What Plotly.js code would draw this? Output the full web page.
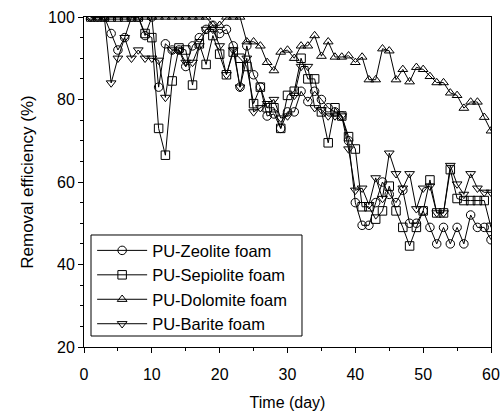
<!DOCTYPE html>
<html>
<head>
<meta charset="utf-8">
<script src="https://cdn.plot.ly/plotly-3.0.1.min.js"></script>
<style>html,body{margin:0;padding:0;background:#fff;}#chart{width:504px;height:418px;}</style>
</head>
<body>
<div id="chart"></div>
<script>
const days = Array.from({length: 60}, (_, i) => i + 1);

const zeolite = [100,100,100,96,92,95,100,100,95.5,100,
  83,93.5,92,92,88,93,95,97,98,96,
  97,93,83,93,86,83,76,76.5,73,77,
  77,82,79.5,82,80,78,77,76,70,55,
  49.5,49.5,55,60,57,55,58,50,50,53,
  49,45,49,45,49,45,52,49,49,46];

const sepiolite = [100,100,100,100,100,100,100,100,96,95,
  73,66.5,84.5,92.5,92,83.5,93.5,88.5,95.5,91,
  86,91.5,90,88,79,83,78,78,73,81,
  82,90,85,85,77,69.5,78,76,71,68,
  54,54,51,53,59,53,49,44.5,49,53,
  60.5,52.5,52.5,63,56,55.5,55.5,55.5,55.5,49];

const dolomite = [100,100,100,100,100,100,100,100,100,100,
  100,100,100,100,100,100,100,100,98,98,
  100,100,100,94,94,93,89,87,91.5,92,
  90,93,93,95.5,90.5,94,90.3,90.3,90.6,89,
  90.3,84.8,84.8,92.3,91.8,84.8,87.3,84.3,87.8,87.3,
  85.6,84.1,84.1,81.6,81,77.9,79.4,79.4,75.7,72.4];

const barite = [100,100,100,84,90,95,90,92,90,90,
  89.5,80.5,92,92,89,89,93,97,97,93,
  86,92,83,90,77,78,79,80,75.5,76,
  81,88,88,78,77.5,76,76,76,68,58,
  58.5,54.5,61,56,67,62,58.5,62,53.5,58.5,
  59,52.5,52.5,64,59.5,57,62,58.5,57.5,57.5];

const names = ['PU-Zeolite foam','PU-Sepiolite foam','PU-Dolomite foam','PU-Barite foam'];
const series = [zeolite, sepiolite, dolomite, barite];
const symbols = ['circle-open','square-open','triangle-up-open','triangle-down-open'];

const traces = series.map((ys, k) => ({
  x: days, y: ys, name: names[k], type: 'scatter', mode: 'lines+markers',
  line: {color: '#000', width: 1},
  marker: {symbol: symbols[k], size: 8.5, color: '#000', line: {width: 1, color: '#000'}}
}));

const font = {family: 'Arial, "Liberation Sans", sans-serif', color: '#000'};

const layout = {
  width: 504, height: 418,
  margin: {l: 84, r: 13, t: 17, b: 71},
  paper_bgcolor: '#fff', plot_bgcolor: '#fff',
  font: Object.assign({size: 15}, font),
  showlegend: true,
  legend: {
    x: 0.02, y: 0.345, xanchor: 'left', yanchor: 'top',
    borderwidth: 0, bgcolor: 'rgba(0,0,0,0)',
    font: Object.assign({size: 16.5}, font),
    itemwidth: 50,
    tracegroupgap: 0
  },
  shapes: [{
    type: 'rect', xref: 'paper', yref: 'paper',
    x0: 0.0172, x1: 0.5356, y0: 0.0333, y1: 0.3394,
    line: {color: '#000', width: 1}, fillcolor: 'rgba(0,0,0,0)', layer: 'above'
  }],
  xaxis: {
    range: [0, 60], tickvals: [0,10,20,30,40,50,60],
    ticks: 'outside', ticklen: 5, tickwidth: 1, tickcolor: '#000',
    ticklabelstandoff: 8,
    showline: true, linecolor: '#000', linewidth: 1, mirror: true,
    showgrid: false, zeroline: false,
    tickfont: Object.assign({size: 16}, font),
    minor: {dtick: 5, ticks: 'outside', ticklen: 3, tickcolor: '#000'},
    title: {text: 'Time (day)', font: Object.assign({size: 16}, font), standoff: 14}
  },
  yaxis: {
    range: [20, 100], tickvals: [20,40,60,80,100],
    ticks: 'outside', ticklen: 5, tickwidth: 1, tickcolor: '#000',
    showline: true, linecolor: '#000', linewidth: 1, mirror: true,
    showgrid: false, zeroline: false,
    tickfont: Object.assign({size: 16}, font),
    minor: {dtick: 5, ticks: 'outside', ticklen: 3, tickcolor: '#000'},
    title: {text: 'Removal efficiency (%)', font: Object.assign({size: 17}, font), standoff: 10}
  }
};

Plotly.newPlot('chart', traces, layout, {displayModeBar: false, staticPlot: true});
</script>
</body>
</html>
